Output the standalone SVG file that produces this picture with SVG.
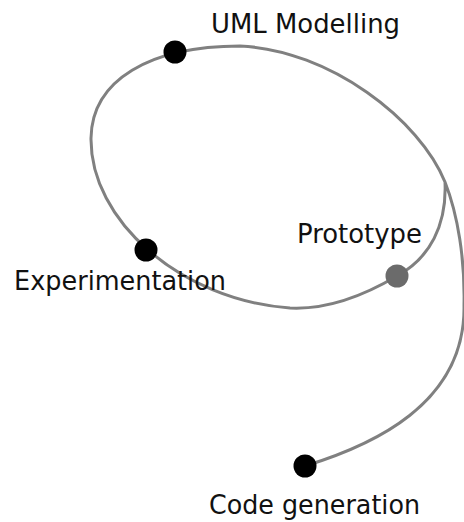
<svg xmlns="http://www.w3.org/2000/svg" width="464" height="522" viewBox="0 0 464 522">
<style>
.lbl{font-family:"DejaVu Sans",Verdana,sans-serif;font-size:26px;fill:#111}
.curve{fill:none;stroke:#808080;stroke-width:3;stroke-linecap:round;stroke-linejoin:round}
.dot{fill:#000}
.dotg{fill:#6b6b6b}
</style>
<rect width="464" height="522" fill="#fff"/>
<g id="connectors">
<path class="curve" d="M305,466 C370,446 466,405 464,305 C465,260 458,215 445,182 C420,120 330,50 240,46 C150,46 92,80 91,138 C90,220 180,300 290,308 C330,310 370,292 397,276 C430,258 447,225 445,182"/>
</g>
<g id="uml">
<circle class="dot" cx="175" cy="52" r="11.5"/>
<text class="lbl" x="211" y="33" textLength="189" lengthAdjust="spacingAndGlyphs">UML Modelling</text>
</g>
<g id="experimentation">
<circle class="dot" cx="146" cy="250" r="11.5"/>
<text class="lbl" x="14" y="290" textLength="212" lengthAdjust="spacingAndGlyphs">Experimentation</text>
</g>
<g id="prototype">
<circle class="dotg" cx="397" cy="276" r="11.5"/>
<text class="lbl" x="297" y="243" textLength="125" lengthAdjust="spacingAndGlyphs">Prototype</text>
</g>
<g id="codegen">
<circle class="dot" cx="305" cy="466" r="11.5"/>
<text class="lbl" x="209" y="514" textLength="211" lengthAdjust="spacingAndGlyphs">Code generation</text>
</g>
</svg>
